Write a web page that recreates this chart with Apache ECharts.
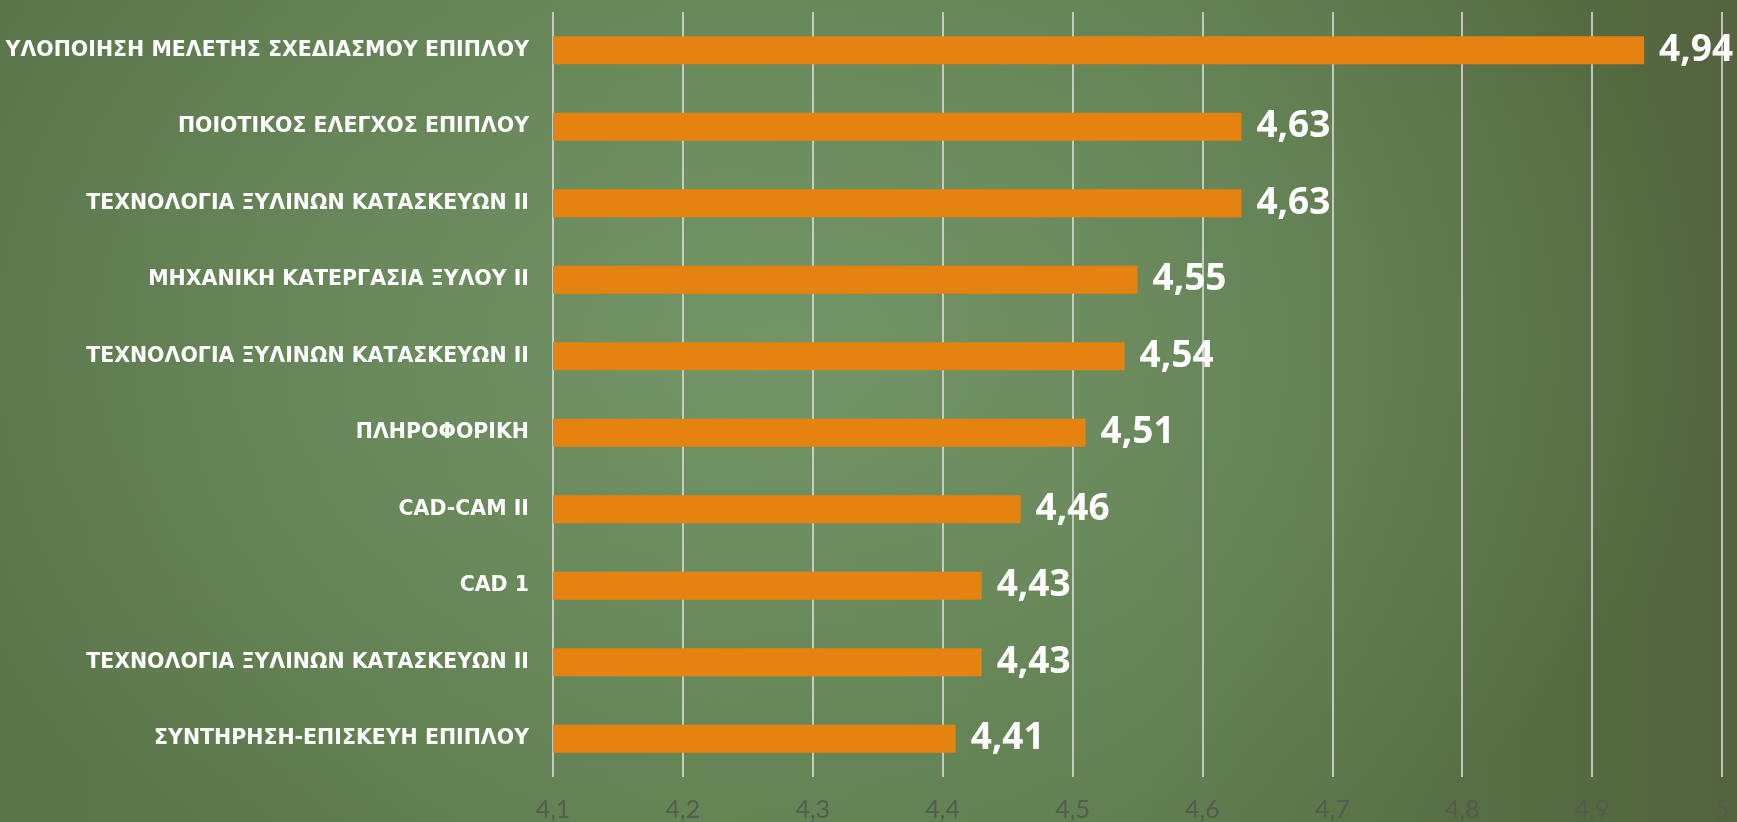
<!DOCTYPE html>
<html>
<head>
<meta charset="utf-8">
<script src="https://cdn.jsdelivr.net/npm/echarts@6/dist/echarts.min.js"></script>
<style>
  html, body { margin: 0; padding: 0; }
  #chart {
    width: 1737px; height: 822px;
    background:
      radial-gradient(ellipse 55% 75% at 45% 42%, rgba(118,152,108,0.85) 0%, rgba(118,152,108,0) 100%),
      linear-gradient(90deg, #5a7449 0%, #61804f 40%, #5e7c4d 65%, #53643e 100%);
  }
</style>
</head>
<body>
<div id="chart"></div>
<script>
// μαθήματα, από πάνω προς τα κάτω
var categories = [
  'ΥΛΟΠΟΙΗΣΗ ΜΕΛΕΤΗΣ ΣΧΕΔΙΑΣΜΟΥ ΕΠΙΠΛΟΥ',
  'ΠΟΙΟΤΙΚΟΣ ΕΛΕΓΧΟΣ ΕΠΙΠΛΟΥ',
  'ΤΕΧΝΟΛΟΓΙΑ ΞΥΛΙΝΩΝ ΚΑΤΑΣΚΕΥΩΝ ΙΙ',
  'ΜΗΧΑΝΙΚΗ ΚΑΤΕΡΓΑΣΙΑ ΞΥΛΟΥ ΙΙ',
  'ΤΕΧΝΟΛΟΓΙΑ ΞΥΛΙΝΩΝ ΚΑΤΑΣΚΕΥΩΝ ΙΙ ',
  'ΠΛΗΡΟΦΟΡΙΚΗ',
  'CAD-CAM II',
  'CAD 1',
  'ΤΕΧΝΟΛΟΓΙΑ ΞΥΛΙΝΩΝ ΚΑΤΑΣΚΕΥΩΝ ΙΙ  ',
  'ΣΥΝΤΗΡΗΣΗ-ΕΠΙΣΚΕΥΗ ΕΠΙΠΛΟΥ'
];
var values = [4.94, 4.63, 4.63, 4.55, 4.54, 4.51, 4.46, 4.43, 4.43, 4.41];
var axisMin = 4.1, axisMax = 5, axisStep = 0.1;

function comma(v) {
  return String(Math.round(v * 100) / 100).replace('.', ',');
}

var chart = echarts.init(document.getElementById('chart'));

var option = {
  backgroundColor: 'transparent',
  animation: false,
  grid: { left: 553, right: 15, top: 12, bottom: 43 },
  xAxis: {
    type: 'value',
    min: axisMin,
    max: axisMax,
    interval: axisStep,
    axisLine: { show: false },
    axisTick: { show: false },
    splitLine: { show: true, lineStyle: { color: '#dcdcdc', width: 1.6 } },
    axisLabel: {
      margin: 20,
      color: '#535c50',
      fontSize: 25,
      fontFamily: 'Lato',
      formatter: function (v) { return comma(v); }
    }
  },
  yAxis: {
    type: 'category',
    inverse: true,
    data: categories,
    axisLine: { show: false },
    axisTick: { show: false },
    axisLabel: {
      margin: 24,
      color: '#ffffff',
      fontSize: 20.5,
      fontWeight: 'bold',
      fontFamily: 'DejaVu Sans',
      formatter: function (v) { return v.trim(); }
    }
  },
  series: [{
    type: 'bar',
    data: values,
    barWidth: 28,
    itemStyle: { color: '#e58310' },
    label: {
      show: true,
      position: 'right',
      distance: 15,
      color: '#ffffff',
      fontSize: 37,
      fontWeight: 'bold',
      fontFamily: 'Noto Sans',
      formatter: function (p) { return comma(p.value); }
    }
  }]
};

chart.setOption(option);
</script>
</body>
</html>
